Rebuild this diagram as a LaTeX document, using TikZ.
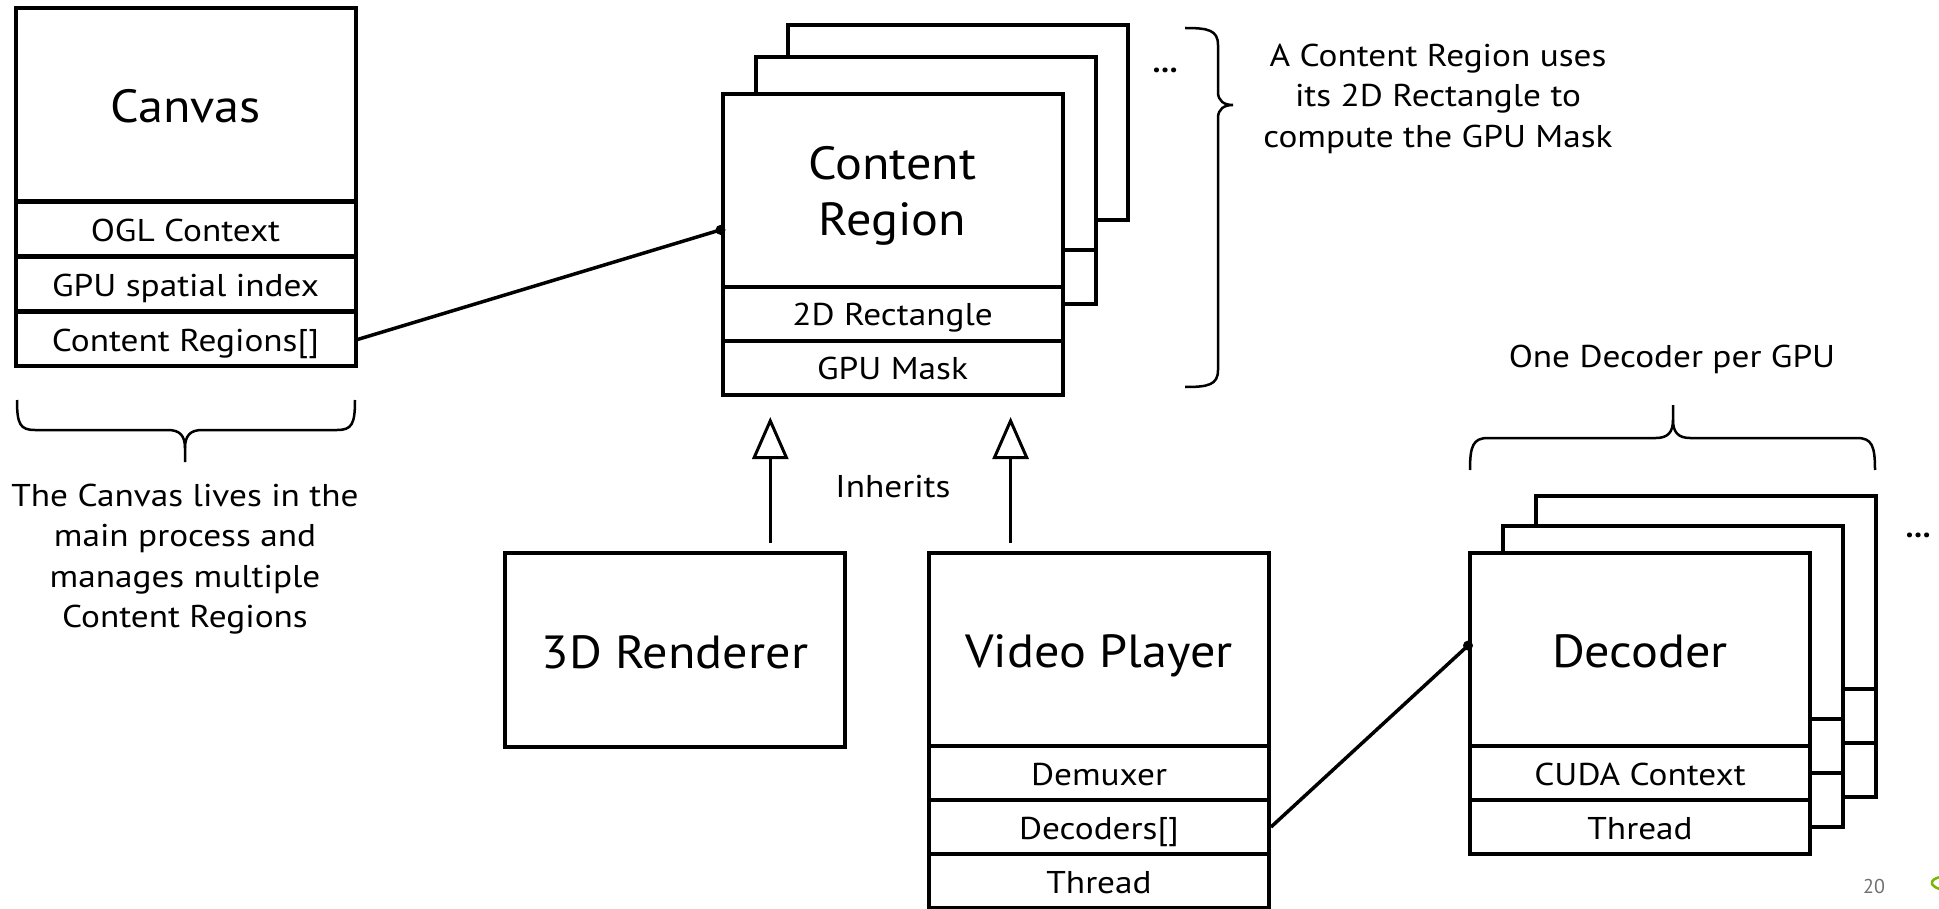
\documentclass[tikz,border=0pt]{standalone}
\usepackage{fontspec}
\setmainfont{PT Sans}
\newfontfamily\rowfont{PT Sans}[FakeStretch=1.12]
\newfontfamily\titlefont{PT Sans}[FakeStretch=1.08]
\usetikzlibrary{arrows.meta,calc}
\definecolor{nvgreen}{HTML}{76B900}
\definecolor{pagegray}{HTML}{707070}
\begin{document}
\begin{tikzpicture}[x=1pt,y=-1pt,
  box/.style={draw, line width=4pt, fill=white, inner sep=0pt, minimum width=340pt, align=center},
  ttl/.style={box, minimum height=193pt, text height=36pt, text depth=0pt, font=\titlefont\fontsize{46.5}{56}\selectfont},
  ttltext/.style={align=center, inner sep=0pt, font=\titlefont\fontsize{46.5}{56}\selectfont},
  rowc/.style={box, minimum height=54pt, text height=24pt, text depth=0pt, font=\rowfont\fontsize{31.5}{38}\selectfont},
  back/.style={draw, line width=4pt, fill=white},
  note/.style={align=center, inner sep=0pt, font=\rowfont\fontsize{31.5}{40.5}\selectfont},
  dots/.style={inner sep=0pt, font=\bfseries\fontsize{31.5}{38}\selectfont},
  conn/.style={line width=3.5pt},
  inh/.style={line width=3pt, -{Triangle[open,length=42pt,width=36pt]}},
  brace/.style={line width=2.5pt},
]
\useasboundingbox (0,0) rectangle (1939,909);

% ---------- Canvas ----------
\node[ttl] (cvT) at (185.5,105) {Canvas};
\node[rowc] (cvOGL) at (185.5,229.5) {OGL Context};
\node[rowc] (cvGPU) at (185.5,284.5) {GPU spatial index};
\node[rowc] (cvCR) at (185.5,339.5) {Content Regions[]};

% ---------- Content Region stack ----------
\draw[back] (788,25) rectangle (1128,220);
\draw[back] (756,57) rectangle (1096,304);
\draw[line width=4pt] (756,250) -- (1096,250);
\node[ttl] (crT) at (892.5,190.5) {};
\node[ttltext] (crTxt) at (892.5,196) {Content\\Region};
\node[rowc] (crRect) at (892.5,314) {2D Rectangle};
\node[rowc] (crMask) at (892.5,368) {GPU Mask};

% ---------- 3D Renderer ----------
\node[ttl, minimum height=194pt] (rend) at (675,650) {3D Renderer};

% ---------- Video Player ----------
\node[ttl] (vpT) at (1099,649.5) {Video Player};
\node[rowc] (vpDem) at (1099,773) {Demuxer};
\node[rowc] (vpDec) at (1099,827) {Decoders[]};
\node[rowc] (vpThr) at (1099,881) {Thread};

% ---------- Decoder stack ----------
\draw[back] (1536,496) rectangle (1876,797);
\draw[line width=4pt] (1536,689) -- (1876,689);
\draw[line width=4pt] (1536,743) -- (1876,743);
\draw[back] (1503,526) rectangle (1843,827);
\draw[line width=4pt] (1503,719) -- (1843,719);
\draw[line width=4pt] (1503,773) -- (1843,773);
\node[ttl] (dT) at (1640,649.5) {Decoder};
\node[rowc] (dCuda) at (1640,773) {CUDA Context};
\node[rowc] (dThr) at (1640,827) {Thread};

% ---------- connectors ----------
\coordinate (crIn) at ($(crT.north west)!0.70!(crT.south west)$);
\draw[conn] (cvCR.east) -- (crIn);
\fill (crIn) circle (5);

\coordinate (dIn) at ($(dT.north west)!0.48!(dT.south west)$);
\draw[conn] (vpDec.east) -- (dIn);
\fill (dIn) circle (5);

\coordinate (rendTop) at ($(rend.north west)!0.777!(rend.north east)$);
\draw[inh, shorten <=8pt, shorten >=20pt] (rendTop) -- (crMask.south -| rendTop);
\coordinate (vpTop) at ($(vpT.north west)!0.243!(vpT.north east)$);
\draw[inh, shorten <=8pt, shorten >=20pt] (vpTop) -- (crMask.south -| vpTop);

% ---------- braces ----------
\draw[brace] (1185,28) .. controls (1208,28) and (1218,30) .. (1218,45) -- (1218,92)
  .. controls (1218,101) and (1224,105) .. (1233,105)
  .. controls (1224,105) and (1218,109) .. (1218,118) -- (1218,370)
  .. controls (1218,385) and (1208,387) .. (1185,387);

\draw[brace] (17,400) .. controls (17,424) and (20,430) .. (35,430) -- (168,430)
  .. controls (180,430) and (185,436) .. (185,448) -- (185,462);
\draw[brace] (185,448) .. controls (185,436) and (190,430) .. (202,430) -- (337,430)
  .. controls (352,430) and (355,424) .. (355,400);

\draw[brace] (1470,470) .. controls (1470,446) and (1473,438) .. (1488,438) -- (1656,438)
  .. controls (1668,438) and (1673,432) .. (1673,420) -- (1673,405);
\draw[brace] (1673,420) .. controls (1673,432) and (1678,438) .. (1690,438) -- (1857,438)
  .. controls (1872,438) and (1875,446) .. (1875,470);

% ---------- notes ----------
\node[note] (crNote) at (1438,98.5) {A Content Region uses\\its 2D Rectangle to\\compute the GPU Mask};
\node[note] (cvNote) at (185,559) {The Canvas lives in the\\main process and\\manages multiple\\Content Regions};
\node[note] (decNote) at (1672,359) {One Decoder per GPU};
\node[note] (inhNote) at (893,487) {Inherits};
\node[dots] (dotsA) at (1165,70) {…};
\node[dots] (dotsB) at (1918,535) {…};
\node[inner sep=0pt, text=pagegray, font=\fontsize{20}{24}\selectfont] (pg) at (1874,886) {20};

% ---------- logo fragment ----------
\draw[nvgreen, line width=2.5pt] (1941,877) .. controls (1934,878) and (1931,881) .. (1932,884)
  .. controls (1934,887) and (1938,889) .. (1941,889);
\end{tikzpicture}
\end{document}
